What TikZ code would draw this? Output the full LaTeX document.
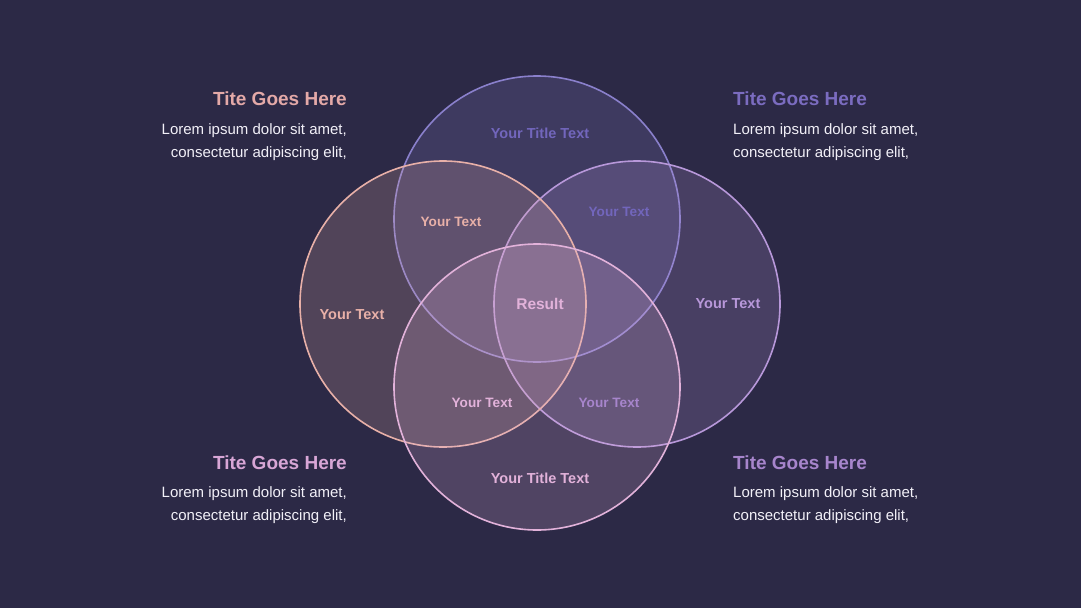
\documentclass[tikz,border=0pt]{standalone}
\usepackage{fontspec}
\setmainfont{Liberation Sans}
\definecolor{bg}{HTML}{2C2946}
\definecolor{ctop}{HTML}{8A80CC}
\definecolor{cleft}{HTML}{E8B0A8}
\definecolor{cright}{HTML}{B898DA}
\definecolor{cbot}{HTML}{E2B2DA}
\definecolor{ttl}{HTML}{E4A9A8}
\definecolor{ttr}{HTML}{7B6CC0}
\definecolor{ltop}{HTML}{7266BC}
\definecolor{tbl}{HTML}{D8A6D6}
\definecolor{tbr}{HTML}{A785CC}
\definecolor{body}{HTML}{F2F0F8}
\tikzset{
  venn/.style={circle, minimum size=286pt, inner sep=0pt, line width=1.6pt, fill opacity=0.2, draw opacity=1},
  ttl/.style={font=\bfseries\fontsize{19}{22}\selectfont, inner sep=0pt},
  bodyR/.style={font=\fontsize{15}{23}\selectfont, text=body, align=right, inner sep=0pt},
  bodyL/.style={font=\fontsize{15}{23}\selectfont, text=body, align=left, inner sep=0pt},
  lbl/.style={font=\bfseries\fontsize{14.5}{16}\selectfont, inner sep=0pt},
  slbl/.style={font=\bfseries\fontsize{13.6}{15}\selectfont, inner sep=0pt}
}
\begin{document}
\begin{tikzpicture}[x=1pt,y=-1pt]
\fill[bg] (0,0) rectangle (1081,608);
\useasboundingbox (0,0) rectangle (1081,608);
% circles
\node[venn, draw=ctop, fill=ctop] (ctop) at (537,219) {};
\node[venn, draw=cright, fill=cright] (cright) at (637,304) {};
\node[venn, draw=cleft, fill=cleft] (cleft) at (443,304) {};
\node[venn, draw=cbot, fill=cbot] (cbot) at (537,387) {};
% circle labels
\node[lbl, text=ltop] (ltopl) at (540,133) {Your Title Text};
\node[lbl, text=cleft] (lleft) at (352,315) {Your Text};
\node[lbl, text=cright] (lright) at (728,304) {Your Text};
\node[lbl, text=cbot] (lbot) at (540,478) {Your Title Text};
\node[font=\bfseries\fontsize{15.5}{17}\selectfont, inner sep=0pt, text=cbot] (res) at (540,304) {Result};
\node[slbl, text=cleft] (ltl) at (451,222) {Your Text};
\node[slbl, text=ltop] (ltr) at (619,212) {Your Text};
\node[slbl, text=cbot] (lbl) at (482,403) {Your Text};
\node[slbl, text=tbr] (lbr) at (609,403) {Your Text};
% side texts
\node[ttl, text=ttl, anchor=east] (t1) at (347,99) {Tite Goes Here};
\node[bodyR, anchor=north east] (b1) at (347,123) {Lorem ipsum dolor sit amet,\\consectetur adipiscing elit,};
\node[ttl, text=ttr, anchor=west] (t2) at (733,99) {Tite Goes Here};
\node[bodyL, anchor=north west] (b2) at (733,123) {Lorem ipsum dolor sit amet,\\consectetur adipiscing elit,};
\node[ttl, text=tbl, anchor=east] (t3) at (347,463) {Tite Goes Here};
\node[bodyR, anchor=north east] (b3) at (347,486) {Lorem ipsum dolor sit amet,\\consectetur adipiscing elit,};
\node[ttl, text=tbr, anchor=west] (t4) at (733,463) {Tite Goes Here};
\node[bodyL, anchor=north west] (b4) at (733,486) {Lorem ipsum dolor sit amet,\\consectetur adipiscing elit,};
\end{tikzpicture}
\end{document}
